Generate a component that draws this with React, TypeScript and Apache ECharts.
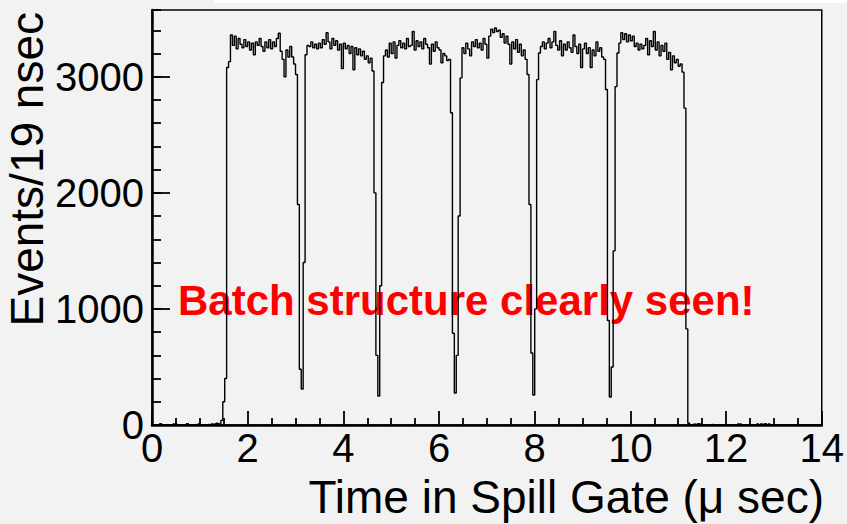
import React, { useEffect, useRef } from "react";
import * as echarts from "echarts";

// Histogram: counts per bin, bins of 0.04 µs starting at 0
const BIN_WIDTH = 0.04;
const X_MIN = 0;
const X_MAX = 14;
const Y_MAX = 3575;

// 0.00 – 1.36 µs
const leftBaseline = [
  0, 0, 0, 5, 12, 0, 0, 0, 0, 0,
  0, 8, 10, 0, 0, 0, 0, 0, 12, 0,
  0, 0, 0, 0, 10, 0, 0, 0, 0, 5,
  0, 8, 10, 15, 12,
];
// 1.40 – 3.16 µs (rise, batch 1, dip 1)
const batch1 = [
  10, 40, 200, 400, 3080, 3130, 3360, 3270, 3350, 3240,
  3330, 3280, 3250, 3320, 3260, 3300, 3230, 3290, 3190, 3300,
  3270, 3330, 3260, 3220, 3300, 3250, 3320, 3240, 3300, 3260,
  3330, 3375, 3220, 3150, 3000, 3230, 3170, 3260, 3170, 3110,
  3020, 1900, 480, 310, 1400,
];
// 3.20 – 4.76 µs
const batch2 = [
  3190, 3270, 3260, 3300, 3250, 3280, 3240, 3290, 3250, 3320,
  3280, 3380, 3300, 3240, 3330, 3270, 3310, 3230, 3280, 3070,
  3290, 3240, 3270, 3200, 3260, 3060, 3250, 3190, 3240, 3180,
  3220, 3150, 3180, 3120, 3160, 3050, 2000, 600, 250, 1200,
];
// 4.80 – 6.36 µs
const batch3 = [
  2950, 3180, 3230, 3170, 3290, 3200, 3300, 3160, 3270, 3310,
  3250, 3290, 3240, 3330, 3260, 3270, 3390, 3230, 3310, 3260,
  3300, 3240, 3330, 3280, 3250, 3110, 3280, 3220, 3300, 3250,
  3230, 3120, 3200, 3180, 3140, 3150, 2690, 790, 276, 600,
];
// 6.40 – 7.96 µs
const batch4 = [
  1800, 2990, 3250, 3200, 3290, 3240, 3180, 3300, 3260, 3320,
  3250, 3290, 3230, 3330, 3280, 3160, 3350, 3410, 3380, 3420,
  3390, 3400, 3340, 3370, 3290, 3350, 3280, 3110, 3300, 3240,
  3320, 3210, 3280, 3180, 3230, 3150, 3020, 1900, 620, 259,
];
// 8.00 – 9.56 µs
const batch5 = [
  1000, 2975, 3205, 3260, 3300, 3240, 3290, 3330, 3250, 3300,
  3390, 3270, 3230, 3310, 3180, 3280, 3230, 3300, 3250, 3210,
  3360, 3260, 3200, 3280, 3080, 3240, 3290, 3200, 3250, 3080,
  3230, 3180, 3300, 3220, 3250, 3170, 3150, 2890, 900, 241,
];
// 9.60 – 11.28 µs
const batch6 = [
  500, 1500, 2915, 3205, 3290, 3380, 3320, 3370, 3300, 3360,
  3310, 3350, 3260, 3290, 3230, 3280, 3240, 3270, 3330, 3190,
  3310, 3260, 3390, 3230, 3300, 3180, 3270, 3220, 3290, 3150,
  3210, 3060, 3180, 3120, 3150, 3090, 3110, 3040, 2730, 828,
  15, 0, 5,
];
// 11.32 – 13.96 µs
const rightBaseline = [
  10, 0, 12, 8, 0, 0, 0, 0, 0, 5,
  0, 0, 0, 0, 0, 0, 0, 0, 0, 0,
  0, 0, 0, 8, 10, 0, 0, 0, 0, 0,
  0, 0, 0, 8, 0, 10, 0, 12, 0, 8,
  0, 0, 0, 0, 0, 0, 0, 0, 0, 0,
  0, 0, 0, 0, 0, 0, 0, 0, 0, 0,
  0, 0, 0, 0, 0, 0, 0,
];

const counts = [
  ...leftBaseline,
  ...batch1,
  ...batch2,
  ...batch3,
  ...batch4,
  ...batch5,
  ...batch6,
  ...rightBaseline,
];

const xTitle = "Time in Spill Gate (\u03bc sec)";
const yTitle = "Events/19 nsec";
const note = "Batch structure clearly seen!";

const FONT = '"Liberation Sans", Arial, Helvetica, sans-serif';

export default function App() {
  const ref = useRef<HTMLDivElement>(null);

  useEffect(() => {
    if (!ref.current) return;
    const chart = echarts.init(ref.current, null, { renderer: "svg" });

    const data: [number, number][] = counts.map((c, i) => [
      Number((X_MIN + i * BIN_WIDTH).toFixed(2)),
      c,
    ]);
    data.push([X_MAX, counts[counts.length - 1]]);

    const tickLine = { color: "#000", width: 1.8 };

    chart.setOption({
      animation: false,
      backgroundColor: "#f2f2f2",
      grid: {
        left: 152,
        top: 10,
        width: 672,
        height: 415,
        show: true,
        borderColor: "#000",
        borderWidth: 1.5,
        backgroundColor: "transparent",
      },
      xAxis: {
        type: "value",
        min: X_MIN,
        max: X_MAX,
        interval: 2,
        axisLine: { show: true, onZero: false, lineStyle: { color: "#000", width: 2.5 } },
        axisTick: { show: true, inside: true, length: 14, lineStyle: tickLine },
        minorTick: { show: true, splitNumber: 4, length: 7, lineStyle: tickLine },
        splitLine: { show: false },
        minorSplitLine: { show: false },
        axisLabel: {
          fontSize: 40,
          color: "#000",
          fontFamily: FONT,
          margin: 3,
          formatter: (v: number) => String(v),
        },
      },
      yAxis: [
        {
          type: "value",
          min: 0,
          max: Y_MAX,
          interval: 1000,
          position: "left",
          axisLine: { show: true, onZero: false, lineStyle: { color: "#000", width: 2.5 } },
          axisTick: { show: true, inside: true, length: 18, lineStyle: tickLine },
          splitLine: { show: false },
          axisLabel: {
            fontSize: 40,
            color: "#000",
            fontFamily: FONT,
            margin: 8,
            showMaxLabel: false,
            formatter: (v: number) => String(v),
          },
        },
        {
          type: "value",
          min: 0,
          max: Y_MAX,
          interval: 200,
          position: "left",
          offset: 0,
          axisLine: { show: false },
          axisTick: { show: true, inside: true, length: 9, lineStyle: tickLine },
          splitLine: { show: false },
          axisLabel: { show: false },
        },
      ],
      series: [
        {
          type: "line",
          yAxisIndex: 0,
          step: "end",
          data,
          showSymbol: false,
          symbol: "none",
          lineStyle: { color: "#000", width: 1.4 },
          z: 5,
          clip: true,
        },
      ],
      graphic: [
        {
          type: "rect",
          silent: true,
          z: 0,
          shape: { x: 214, y: 0, width: 633, height: 2.7 },
          style: { fill: "#ffffff" },
        },
        {
          type: "text",
          silent: true,
          z: 1,
          x: 178,
          y: 300.4,
          style: {
            text: note,
            fill: "#ff0000",
            font: `bold 42px ${FONT}`,
            align: "left",
            verticalAlign: "middle",
            textAlign: "left",
            textVerticalAlign: "middle",
          },
        },
        {
          type: "text",
          silent: true,
          z: 1,
          x: 824,
          y: 497,
          style: {
            text: xTitle,
            fill: "#000",
            font: `46px ${FONT}`,
            align: "right",
            verticalAlign: "middle",
            textAlign: "right",
            textVerticalAlign: "middle",
          },
        },
        {
          type: "text",
          silent: true,
          z: 1,
          x: 27.4,
          y: 12,
          rotation: Math.PI / 2,
          style: {
            text: yTitle,
            fill: "#000",
            font: `46px ${FONT}`,
            align: "right",
            verticalAlign: "middle",
            textAlign: "right",
            textVerticalAlign: "middle",
          },
        },
      ],
    });

    return () => chart.dispose();
  }, []);

  return (
    <div
      ref={ref}
      style={{
        position: "fixed",
        left: 0,
        top: 0,
        width: 847,
        height: 524,
        background: "#f2f2f2",
      }}
    />
  );
}
